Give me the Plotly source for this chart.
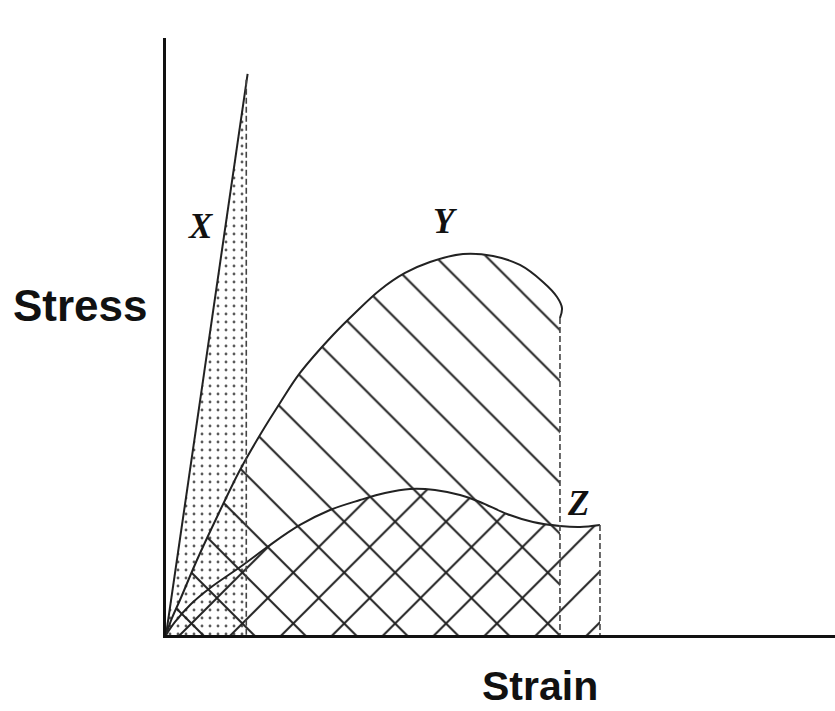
import plotly.graph_objects as go

# ---- data (strain %, stress % of plot range) ----
strain_X = [0, 12.2, 12.0, 12.0]
stress_X = [0, 94.0, 93.0, 0]

strain_Y = [0, 0.90, 2.09, 4.63, 7.62, 11.06, 14.05, 17.04, 20.03, 24.96, 28.25,
            31.99, 35.73, 39.46, 44.39, 48.88, 52.91, 56.35, 58.45, 59.19, 58.89]
stress_Y = [0, 2.85, 5.86, 12.56, 19.77, 27.64, 33.5, 38.86, 43.89, 50.25, 53.94,
            57.79, 60.64, 62.48, 63.82, 63.48, 61.98, 59.13, 56.62, 54.77, 53.10]

strain_Z = [0, 1.35, 3.59, 6.58, 11.51, 15.55, 20.03, 24.51, 29.0, 32.74, 36.47,
            40.21, 43.95, 46.94, 50.97, 54.86, 58.89, 61.88, 64.87]
stress_Z = [0, 2.18, 5.03, 7.87, 11.73, 15.08, 18.43, 20.94, 22.61, 23.79, 24.46,
            24.29, 23.45, 22.28, 20.27, 18.93, 18.26, 18.09, 18.43]

labels = ["X", "Y", "Z"]
label_x = [5.3, 41.8, 61.6]
label_y = [68.5, 69.3, 22.0]

axis_titles = ["Stress", "Strain"]

CLEAR = "rgba(0,0,0,0)"
fig = go.Figure()

def region(xs, ys, shape, size, solidity, color):
    fig.add_trace(go.Scatter(
        x=xs + [xs[-1], 0], y=ys + [0, 0], mode="lines", fill="toself",
        line=dict(width=0, color=CLEAR), fillcolor=CLEAR,
        fillpattern=dict(shape=shape, size=size, solidity=solidity,
                         fgcolor=color, bgcolor=CLEAR, fillmode="replace"),
        hoverinfo="skip", showlegend=False))

# fills
region(strain_X[:3], stress_X[:3], ".", 8, 0.10, "#5a5a5a")
region(strain_Y, stress_Y, "\\", 36, 0.055, "#222222")
region(strain_Z, stress_Z, "/", 36, 0.055, "#222222")

# curves
line_style = dict(color="#222222", width=2)
fig.add_trace(go.Scatter(x=strain_X[:2], y=stress_X[:2], mode="lines",
                         line=line_style, showlegend=False, hoverinfo="skip"))
fig.add_trace(go.Scatter(x=strain_Y, y=stress_Y, mode="lines", line_shape="spline",
                         line=line_style, showlegend=False, hoverinfo="skip"))
fig.add_trace(go.Scatter(x=strain_Z, y=stress_Z, mode="lines", line_shape="spline",
                         line=line_style, showlegend=False, hoverinfo="skip"))

# dashed drop lines
dash_style = dict(color="#444444", width=1.6, dash="6px,3px")
for xs, ys in [([strain_X[2], strain_X[3]], [stress_X[2], stress_X[3]]),
               ([strain_Y[-1], strain_Y[-1]], [stress_Y[-1], 0]),
               ([strain_Z[-1], strain_Z[-1]], [stress_Z[-1], 0])]:
    fig.add_trace(go.Scatter(x=xs, y=ys, mode="lines", line=dash_style,
                             showlegend=False, hoverinfo="skip"))

# curve labels
for t, lx, ly in zip(labels, label_x, label_y):
    fig.add_annotation(x=lx, y=ly, text="<b><i>%s</i></b>" % t, showarrow=False,
                       xanchor="center", yanchor="middle",
                       font=dict(family="Liberation Serif", size=35, color="#111"))

# axis titles
fig.add_annotation(xref="x domain", yref="y domain",
                   x=(80 - 166) / 669, y=(635 - 305) / 597,
                   text="<b>%s</b>" % axis_titles[0], showarrow=False,
                   xanchor="center", yanchor="middle",
                   font=dict(family="Liberation Sans", size=44, color="#111"))
fig.add_annotation(xref="x domain", yref="y domain",
                   x=(540 - 166) / 669, y=(635 - 686) / 597,
                   text="<b>%s</b>" % axis_titles[1], showarrow=False,
                   xanchor="center", yanchor="middle",
                   font=dict(family="Liberation Sans", size=41, color="#111"))

fig.update_layout(
    width=835, height=711,
    margin=dict(l=166, r=0, t=38, b=76),
    paper_bgcolor="white", plot_bgcolor="white",
    xaxis=dict(range=[0, 100], showgrid=False, zeroline=False, showticklabels=False,
               ticks="", showline=True, linecolor="#111", linewidth=3, fixedrange=True),
    yaxis=dict(range=[0, 100], showgrid=False, zeroline=False, showticklabels=False,
               ticks="", showline=True, linecolor="#111", linewidth=3, fixedrange=True),
)

fig.write_html("out.html", config={"displayModeBar": False},
               post_script="document.body.style.margin='0';"
                           "document.body.style.overflow='hidden';")
